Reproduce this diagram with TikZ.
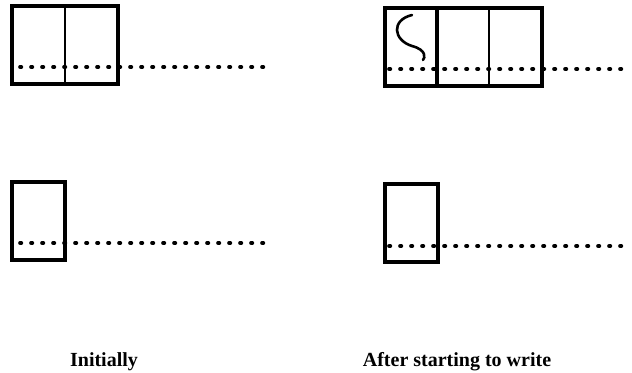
\documentclass[tikz,border=0pt]{standalone}
\usepackage{fontspec}
\setmainfont{Liberation Serif}
\usepackage{tikz}
\usetikzlibrary{positioning,fit,calc}

\begin{document}
\begin{tikzpicture}[
  x=0.5pt, y=-0.5pt,
  font=\fontsize{10}{12}\selectfont\bfseries,
  cell/.style   ={draw, line width=1.3pt, inner sep=0pt, outer sep=0pt,
                  minimum width=26.5pt, minimum height=39pt},
  frame/.style  ={draw, line width=1.6pt, inner sep=0pt, outer sep=0pt},
  dots/.style   ={line width=1.8pt, line cap=round,
                  dash pattern=on 0.7pt off 4.8pt},
  caption/.style={anchor=base, inner sep=0pt},
]
\useasboundingbox (0,0) rectangle (632,372);

% ---- geometry --------------------------------------------------------------
\def\colL{12}   \def\colR{385}
\def\rowA{6}    \def\rowB{182}
\def\endL{270}  \def\endR{627}

% ---- left, initially -------------------------------------------------------
\node[cell, anchor=north west] (la1) at (\colL,\rowA) {};
\node[cell, right=0pt of la1]  (la2) {};
\node[frame, fit=(la1)(la2)]   (laF) {};

\node[cell, anchor=north west] (lb1) at (\colL,\rowB) {};
\node[frame, fit=(lb1)]        (lbF) {};

% ---- right, after starting to write ----------------------------------------
\node[cell, anchor=north west] (ra1) at (\colR,\rowA+2) {};
\node[cell, right=-1pt of ra1] (ra2) {};
\node[cell, right=0pt of ra2]  (ra3) {};
\node[frame, fit=(ra1)(ra3)]   (raF) {};

\node[cell, anchor=north west] (rb1) at (\colR,\rowB+2) {};
\node[frame, fit=(rb1)]        (rbF) {};

% the first stroke written into the first cell
\draw[line width=1.3pt, line cap=round]
  ($(ra1.north west)+(27,7)$) .. controls ($(ra1.north west)+(6,12)$)
  and ($(ra1.north west)+(8,32)$) .. ($(ra1.north west)+(27,38)$)
  .. controls ($(ra1.north west)+(42,42)$) and ($(ra1.north west)+(40,50)$)
  .. ($(ra1.north west)+(38,52)$);

% ---- the lines of text -----------------------------------------------------
\coordinate (laS) at ($(laF.south west)+(8,-17)$);
\coordinate (lbS) at ($(lbF.south west)+(8,-17)$);
\coordinate (raS) at ($(raF.south west)+(4,-17)$);
\coordinate (rbS) at ($(rbF.south west)+(4,-16)$);
\coordinate (laE) at (\endL,0);
\coordinate (raE) at (\endR,0);

\draw[dots] (laS) -- (laS -| laE);
\draw[dots] (lbS) -- (lbS -| laE);
\draw[dots] (raS) -- (raS -| raE);
\draw[dots] (rbS) -- (rbS -| raE);

% ---- captions --------------------------------------------------------------
\node[caption] (capL) at (104,366) {Initially};
\node[caption] (capR) at (457,366) {After starting to write};

\end{tikzpicture}
\end{document}
